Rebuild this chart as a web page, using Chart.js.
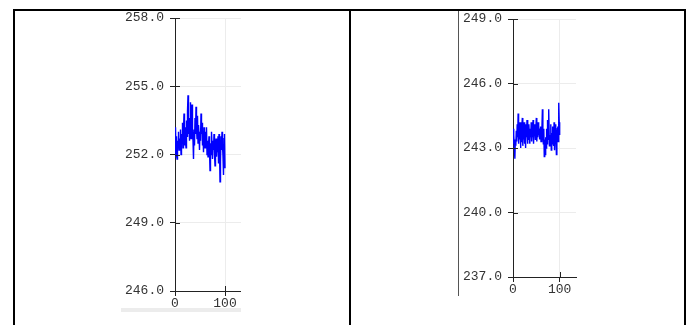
<!DOCTYPE html>
<html>
<head>
<meta charset="utf-8">
<script src="https://cdn.jsdelivr.net/npm/chart.js@4.4.1/dist/chart.umd.min.js"></script>
<style>
    html, body { margin: 0; padding: 0; background: #fff; width: 688px; height: 325px; overflow: hidden; }
    #table { position: absolute; left: 13px; top: 9px; width: 669px; height: 400px; border: 2px solid #000; }
    #divider { position: absolute; left: 349px; top: 9px; width: 2px; height: 400px; background: #000; }
    .img { position: absolute; background: #fff; }
    #imgLeft { left: 121px; top: 11px; width: 120px; height: 297px; border-bottom: 4px solid #ececec; }
    #imgRight { left: 458px; top: 11px; width: 119px; height: 285px; border-left: 1px solid #555; }
    canvas { display: block; }
</style>
</head>
<body>
<div id="table"></div>
<div id="divider"></div>
<div class="img" id="imgLeft"><canvas id="chartLeft" width="120" height="297"></canvas></div>
<div class="img" id="imgRight"><canvas id="chartRight" width="119" height="285"></canvas></div>

<script>
    // x positions (samples 0..100)
    var xValues = [];
    for (var i = 0; i <= 100; i++) xValues.push(i);

    var xTicks = [0, 100];

    var leftTicks = [246, 249, 252, 255, 258];
    var leftValues = [
        252.1, 253.2, 251.9, 252.8, 251.8, 252.6, 252.3, 253.0, 252.2, 252.7,
        252.4, 253.1, 252.0, 252.9, 252.5, 253.4, 252.3, 253.0, 253.8, 252.4,
        253.2, 252.6, 252.3, 253.5, 252.8, 253.9, 254.6, 252.9, 253.6, 252.6,
        253.4, 254.3, 252.7, 253.9, 254.2, 253.0, 252.6, 251.8, 253.1, 252.4,
        253.6, 252.9, 254.1, 253.2, 252.7, 253.7, 252.5, 253.3, 252.9, 252.2,
        253.0, 252.6, 253.8, 252.9, 253.4, 252.4, 252.9, 252.1, 253.2, 252.7,
        252.3, 253.0, 252.5, 253.2, 252.0, 252.6, 251.9, 252.4, 252.8, 252.2,
        251.3, 252.5, 252.0, 253.0, 252.4, 251.8, 252.6, 252.2, 252.9, 252.0,
        251.5, 252.3, 252.7, 251.9, 252.5, 252.1, 252.8, 251.6, 252.9, 252.3,
        250.8, 251.7, 252.8, 252.2, 253.0, 252.4, 251.9, 251.1, 252.7, 252.9, 251.4
    ];

    var rightTicks = [237, 240, 243, 246, 249];
    var rightValues = [
        243.9, 243.2, 243.6, 243.0, 242.5, 243.4, 243.1, 243.8, 243.3, 244.1,
        243.5, 244.6, 243.2, 244.0, 243.4, 244.2, 243.0, 243.9, 243.3, 244.0,
        244.4, 243.1, 243.7, 243.4, 244.2, 243.2, 243.9, 243.0, 244.1, 243.5,
        244.3, 243.2, 243.8, 243.4, 244.1, 243.6, 243.2, 243.9, 243.5, 244.2,
        243.3, 243.9, 243.5, 244.3, 243.2, 243.8, 243.6, 244.1, 243.4, 243.9,
        244.4, 243.3, 243.8, 243.5, 244.2, 243.6, 243.9, 243.4, 243.7, 244.0,
        243.3, 243.9, 243.5, 244.8, 243.6, 243.2, 243.9, 242.6, 243.4, 242.7,
        243.5, 243.0, 243.9, 243.2, 244.3, 243.4, 243.8, 244.8, 243.1, 243.6,
        243.3, 244.1, 242.9, 243.7, 243.2, 244.0, 243.4, 243.1, 244.2, 242.9,
        243.6, 243.3, 244.1, 242.7, 243.5, 243.9, 244.0, 243.3, 245.1, 244.2, 243.6
    ];

    var tickFont = {family: "'Liberation Mono', 'DejaVu Sans Mono', monospace", size: 13};

    // small tick marks that cross the axis line (inner half)
    var crossTicks = {
        id: 'crossTicks',
        afterDraw: function (chart) {
            var ctx = chart.ctx;
            var area = chart.chartArea;
            var xs = chart.scales.x;
            var ys = chart.scales.y;
            ctx.save();
            ctx.strokeStyle = '#222';
            ctx.lineWidth = 1;
            ctx.beginPath();
            ys.ticks.forEach(function (t) {
                var y = Math.round(ys.getPixelForValue(t.value)) + 0.5;
                ctx.moveTo(area.left, y);
                ctx.lineTo(area.left + 5, y);
            });
            xs.ticks.forEach(function (t) {
                var x = Math.round(xs.getPixelForValue(t.value)) + 0.5;
                ctx.moveTo(x, area.bottom);
                ctx.lineTo(x, area.bottom - 5);
            });
            ctx.stroke();
            ctx.restore();
        }
    };

    function makeChart(id, values, yTicks, xMax, axisHeight, padding) {
        var points = [];
        for (var i = 0; i < values.length; i++) {
            points.push({x: xValues[i], y: values[i]});
        }
        var ctx = document.getElementById(id).getContext('2d');
        return new Chart(ctx, {
            type: 'line',
            data: {
                datasets: [{
                    data: points,
                    borderColor: '#0000ff',
                    borderWidth: 1.4,
                    pointRadius: 0,
                    tension: 0,
                    fill: false
                }]
            },
            options: {
                responsive: false,
                animation: false,
                events: [],
                layout: {padding: padding},
                plugins: {legend: {display: false}, tooltip: {enabled: false}},
                scales: {
                    x: {
                        type: 'linear',
                        min: 0,
                        max: xMax,
                        afterBuildTicks: function (scale) {
                            scale.ticks = xTicks.map(function (v) { return {value: v}; });
                        },
                        afterFit: function (scale) {
                            scale.height = axisHeight;
                            scale.paddingLeft = 0;
                            scale.paddingRight = 0;
                        },
                        ticks: {
                            font: tickFont,
                            color: '#333',
                            padding: 0,
                            maxRotation: 0,
                            callback: function (v) { return String(v); }
                        },
                        grid: {color: '#ececec', tickColor: '#222', tickLength: 5},
                        border: {color: '#222', width: 1}
                    },
                    y: {
                        type: 'linear',
                        min: yTicks[0],
                        max: yTicks[yTicks.length - 1],
                        afterBuildTicks: function (scale) {
                            scale.ticks = yTicks.map(function (v) { return {value: v}; });
                        },
                        afterFit: function (scale) {
                            scale.width = 54;
                            scale.paddingTop = 0;
                            scale.paddingBottom = 0;
                        },
                        ticks: {
                            font: tickFont,
                            color: '#333',
                            padding: 6,
                            callback: function (v) { return Number(v).toFixed(1); }
                        },
                        grid: {color: '#ececec', tickColor: '#222', tickLength: 5},
                        border: {color: '#222', width: 1}
                    }
                }
            },
            plugins: [crossTicks]
        });
    }

    makeChart('chartLeft', leftValues, leftTicks, 132, 17, {top: 7, right: 0, left: 0, bottom: 0});
    makeChart('chartRight', rightValues, rightTicks, 135, 19, {top: 8, right: 2, left: 0, bottom: 0});
</script>
</body>
</html>
